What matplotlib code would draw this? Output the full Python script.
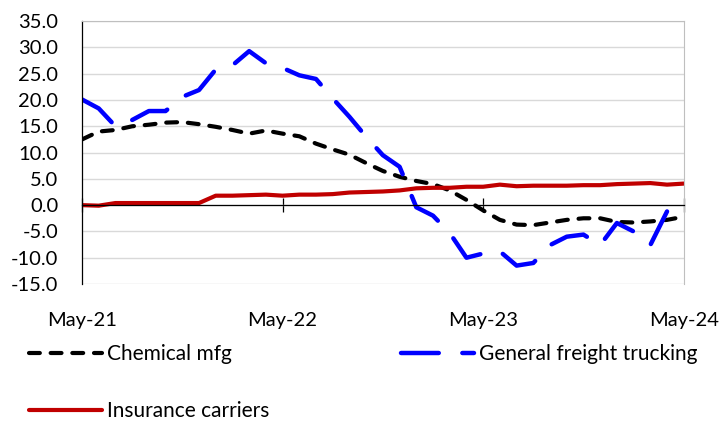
import numpy as np
import matplotlib.pyplot as plt

plt.rcParams['font.family'] = ['Lato', 'DejaVu Sans']

# monthly, May-21 .. May-24 (index 0..36)
tick_labels = ['May-21', 'May-22', 'May-23', 'May-24']
tick_months = [0, 12, 24, 36]

chemical = [12.5, 14.0, 14.3, 15.0, 15.3, 15.7, 15.8, 15.4, 14.9, 14.3,
            13.6, 14.2, 13.6, 13.1, 11.7, 10.6, 9.6, 8.0, 6.5, 5.4,
            4.6, 4.0, 2.8, 1.0, -1.0, -2.8, -3.7, -3.8, -3.3, -2.8,
            -2.5, -2.5, -3.2, -3.3, -3.1, -2.8, -2.2]
trucking = [20.1, 18.4, 15.0, 16.2, 17.9, 17.9, 20.6, 21.9, 25.8, 26.6,
            29.3, 27.0, 26.1, 24.7, 24.0, 20.3, 16.8, 13.0, 9.5, 7.3,
            -0.4, -2.0, -5.3, -10.0, -9.2, -8.8, -11.5, -11.0, -7.6, -6.0,
            -5.6, -7.6, -3.4, -5.0, -7.6, -1.2]
insurance = [0.0, -0.1, 0.4, 0.4, 0.4, 0.4, 0.4, 0.4, 1.8, 1.8,
             1.9, 2.0, 1.8, 2.0, 2.0, 2.1, 2.4, 2.5, 2.6, 2.8,
             3.2, 3.3, 3.3, 3.5, 3.5, 3.9, 3.6, 3.7, 3.7, 3.7,
             3.8, 3.8, 4.0, 4.1, 4.2, 3.9, 4.1]

fig = plt.figure(figsize=(7.22, 4.23), dpi=100)
ax = fig.add_axes([0.1136, 0.3286, 0.8334, 0.6214])

l1, = ax.plot(np.arange(len(chemical)), chemical, color='black', lw=3,
              dashes=(2.6, 2.6), dash_capstyle='round', label='Chemical mfg')
l2, = ax.plot(np.arange(len(trucking)), trucking, color='#0000FF', lw=3.2,
              dashes=(8.5, 5.3), dash_capstyle='round', solid_capstyle='round',
              label='General freight trucking')
l3, = ax.plot(np.arange(len(insurance)), insurance, color='#C00000', lw=3,
              solid_capstyle='round', label='Insurance carriers')

ax.set_xlim(0, 36)
ax.set_ylim(-15, 35)
ax.set_yticks(np.arange(-15, 36, 5))
ax.set_yticklabels([f'{v:.1f}' for v in np.arange(-15, 36, 5)])
ax.yaxis.grid(True, color='#D9D9D9', lw=1)
ax.set_axisbelow(True)

ax.set_xticks(tick_months)
ax.set_xticklabels(tick_labels)

ax.spines['bottom'].set_position(('data', 0))
ax.spines['bottom'].set_color('black')
ax.spines['bottom'].set_linewidth(0.9)
ax.spines['left'].set_color('black')
ax.spines['left'].set_linewidth(0.9)
ax.spines['top'].set_color('#BFBFBF')
ax.spines['right'].set_color('#BFBFBF')

ax.tick_params(axis='y', length=0, pad=17, labelsize=14.5)
ax.tick_params(axis='x', direction='inout', length=10, width=0.9,
               pad=72, labelsize=14.5)

fig.legend([l1, l3, l2], ['Chemical mfg', 'Insurance carriers', 'General freight trucking'],
           ncol=2, loc='upper left', bbox_to_anchor=(0.04, 0.187),
           frameon=False, fontsize=15, handlelength=3.5, handletextpad=0.25,
           columnspacing=6.3, labelspacing=1.8, borderpad=0, borderaxespad=0)

fig.savefig('out.png', dpi=100)
